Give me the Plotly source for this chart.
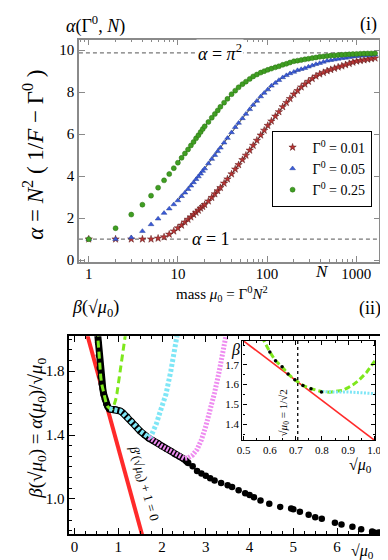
import plotly.graph_objects as go

FONT = "Liberation Serif, Times New Roman, serif"

# ---------------- panel (i) data ----------------
N_vals = [1, 2, 3, 4, 5, 6, 7, 8, 9, 10, 11, 12, 13, 14, 15, 16, 17, 18, 19, 20,
          22, 24, 26, 28, 30, 33, 36, 40, 44, 48, 53, 58, 64, 70, 77,
          85, 93, 102, 112, 124, 136, 150, 165, 181, 200, 220, 242, 266, 292, 322,
          354, 390, 429, 472, 519, 571, 628, 691, 760, 836, 920, 1012, 1113, 1224, 1347,
          1481, 1630]
alpha_g001 = [1.0, 1.0, 1.0, 1.0, 1.0, 1.04, 1.1, 1.23, 1.38, 1.53, 1.66, 1.81, 1.94, 2.05, 2.17,
              2.27, 2.37, 2.47, 2.55, 2.64,
              2.81, 2.98, 3.15, 3.3, 3.45, 3.66, 3.86, 4.1, 4.33, 4.54, 4.78, 4.99, 5.23, 5.46, 5.7,
              5.95, 6.18, 6.41, 6.62, 6.85, 7.06, 7.3, 7.5, 7.69, 7.9, 8.07, 8.24, 8.38, 8.51, 8.64,
              8.76, 8.86, 8.93, 9.01, 9.07, 9.13, 9.19, 9.24, 9.3, 9.36, 9.42, 9.47, 9.5, 9.53, 9.56,
              9.59, 9.62]
alpha_g005 = [1.0, 1.0, 1.08, 1.38, 1.7, 1.97, 2.24, 2.45, 2.65, 2.84, 3.04, 3.21, 3.38, 3.54, 3.7,
              3.85, 3.98, 4.11, 4.24, 4.36,
              4.6, 4.81, 5.0, 5.18, 5.35, 5.59, 5.81, 6.08, 6.33, 6.53, 6.75, 6.96, 7.18, 7.39, 7.58,
              7.79, 7.96, 8.12, 8.3, 8.44, 8.57, 8.7, 8.8, 8.89, 8.96, 9.04, 9.09, 9.14, 9.21, 9.27,
              9.33, 9.38, 9.44, 9.49, 9.52, 9.55, 9.58, 9.61, 9.63, 9.66, 9.69, 9.71, 9.73, 9.74, 9.76,
              9.77, 9.78]
alpha_g025 = [1.0, 1.52, 2.17, 2.64, 3.07, 3.45, 3.8, 4.1, 4.38, 4.64, 4.87, 5.08, 5.27, 5.46, 5.63,
              5.8, 5.95, 6.1, 6.24, 6.37,
              6.58, 6.78, 6.96, 7.13, 7.3, 7.5, 7.68, 7.9, 8.07, 8.23, 8.38, 8.5, 8.63, 8.75, 8.84,
              8.93, 9.0, 9.06, 9.12, 9.18, 9.23, 9.3, 9.35, 9.41, 9.47, 9.5, 9.53, 9.56, 9.59, 9.62,
              9.65, 9.68, 9.7, 9.72, 9.74, 9.75, 9.77, 9.78, 9.79, 9.8, 9.81, 9.82, 9.83, 9.835, 9.84,
              9.845, 9.85]
alpha_limits = [1.0, 9.8696]
y_ticks_top = [0, 2, 4, 6, 8, 10]

# ---------------- panel (ii) data ----------------
beta_x = [0.52, 0.54, 0.56, 0.578, 0.6, 0.622, 0.647, 0.67, 0.696, 0.727, 0.758, 0.798, 0.85, 0.9, 0.95,
          1.0, 1.05, 1.1, 1.2, 1.3, 1.4, 1.5, 1.6, 1.7, 1.8, 1.9, 2.0, 2.1, 2.2, 2.3, 2.4, 2.5, 2.6, 2.7,
          2.8, 2.9, 3.0, 3.1, 3.2, 3.35, 3.5, 3.6, 3.75, 3.9, 4.0, 4.1, 4.25, 4.45, 4.7, 4.95, 5.0, 5.15,
          5.35, 5.5, 5.65, 5.95, 6.1, 6.35, 6.55, 6.8, 6.85, 6.95, 7.05]
beta_y = [2.06, 1.98, 1.9, 1.82, 1.765, 1.72, 1.69, 1.654, 1.624, 1.596, 1.579, 1.563, 1.56, 1.562, 1.56,
          1.555, 1.55, 1.54, 1.515, 1.485, 1.455, 1.425, 1.40, 1.38, 1.365, 1.35, 1.33, 1.315, 1.30, 1.28,
          1.265, 1.25, 1.225, 1.205, 1.175, 1.16, 1.145, 1.13, 1.115, 1.10, 1.085, 1.075, 1.055, 1.035,
          1.025, 1.01, 0.99, 0.97, 0.95, 0.94, 0.935, 0.92, 0.9, 0.885, 0.875, 0.85, 0.84, 0.825, 0.81,
          0.795, 0.79, 0.79, 0.785]
green_x = [0.52, 0.54, 0.56, 0.578, 0.6, 0.622, 0.647, 0.67, 0.696, 0.727, 0.758, 0.798, 0.83, 0.86,
           0.88, 0.9, 0.92, 0.94, 0.97, 1.0, 1.05, 1.1, 1.15, 1.2]
green_y = [2.06, 1.98, 1.9, 1.82, 1.765, 1.72, 1.69, 1.654, 1.624, 1.596, 1.579, 1.565, 1.561, 1.565,
           1.571, 1.585, 1.6, 1.62, 1.66, 1.715, 1.8, 1.9, 2.0, 2.1]
cyan_x = [0.8, 0.85, 0.9, 0.95, 1.0, 1.05, 1.1, 1.2, 1.3, 1.4, 1.5, 1.6, 1.65, 1.7, 1.75, 1.8, 1.87,
          1.95, 2.03, 2.09, 2.2, 2.31, 2.36]
cyan_y = [1.565, 1.562, 1.563, 1.56, 1.555, 1.55, 1.54, 1.515, 1.485, 1.455, 1.425, 1.40, 1.39, 1.385,
          1.395, 1.42, 1.47, 1.54, 1.61, 1.656, 1.80, 1.965, 2.05]
mag_x = [1.7, 1.8, 1.9, 2.0, 2.1, 2.2, 2.3, 2.4, 2.45, 2.5, 2.6, 2.7, 2.8, 2.9, 3.0, 3.1, 3.2, 3.3,
         3.42, 3.48]
mag_y = [1.385, 1.365, 1.35, 1.33, 1.315, 1.30, 1.28, 1.265, 1.256, 1.254, 1.258, 1.275, 1.31, 1.37,
         1.455, 1.55, 1.665, 1.79, 1.965, 2.05]
red_x = [0.2, 1.7]
red_y = [2.12, 0.62]
x_crit = 0.7071

RED = "#ff2a2a"
LIME = "#7ee81c"
CYAN = "#7fe6f6"
MAG = "#ee8cf0"

fig = go.Figure()

# ---------- panel (i) ----------
series = [("Γ<sup>0</sup> = 0.01", alpha_g001, "star", "#b83434", "#5a1818", 5.5),
          ("Γ<sup>0</sup> = 0.05", alpha_g005, "triangle-up", "#3a5ad8", "#27409a", 5),
          ("Γ<sup>0</sup> = 0.25", alpha_g025, "circle", "#3f9e22", "#2a7012", 5)]
for name, ys, sym, col, lcol, sz in series:
    lx = [n for n in N_vals if n >= 10]
    ly = [a for n, a in zip(N_vals, ys) if n >= 10]
    fig.add_trace(go.Scatter(x=lx, y=ly, mode="lines", line=dict(color="#333333", width=1),
                             xaxis="x", yaxis="y", showlegend=False, hoverinfo="skip"))
for name, ys, sym, col, lcol, sz in series:
    fig.add_trace(go.Scatter(x=N_vals, y=ys, mode="markers", name=name,
                             marker=dict(symbol=sym, size=sz, color=col, line=dict(color=lcol, width=0.5)),
                             xaxis="x", yaxis="y"))

# ---------- panel (ii) ----------
fig.add_trace(go.Scatter(x=red_x, y=red_y, mode="lines", line=dict(color=RED, width=4),
                         xaxis="x2", yaxis="y2", showlegend=False))
bl_x = [x for x in beta_x if x <= 2.6]
bl_y = [y for x, y in zip(beta_x, beta_y) if x <= 2.6]
fig.add_trace(go.Scatter(x=bl_x, y=bl_y, mode="lines", line=dict(color="black", width=7),
                         xaxis="x2", yaxis="y2", showlegend=False))
fig.add_trace(go.Scatter(x=beta_x, y=beta_y, mode="markers", marker=dict(color="black", size=6.5),
                         xaxis="x2", yaxis="y2", showlegend=False))
fig.add_trace(go.Scatter(x=green_x, y=green_y, mode="lines", line=dict(color=LIME, width=3, dash="7px,4px"),
                         xaxis="x2", yaxis="y2", showlegend=False))
fig.add_trace(go.Scatter(x=cyan_x, y=cyan_y, mode="lines", line=dict(color=CYAN, width=5, dash="3px,2px"),
                         xaxis="x2", yaxis="y2", showlegend=False))
fig.add_trace(go.Scatter(x=mag_x, y=mag_y, mode="lines", line=dict(color=MAG, width=5, dash="2px,1.5px"),
                         xaxis="x2", yaxis="y2", showlegend=False))

# ---------- inset ----------
fig.add_trace(go.Scatter(x=red_x, y=red_y, mode="lines", line=dict(color=RED, width=1.6),
                         xaxis="x3", yaxis="y3", showlegend=False))
fig.add_trace(go.Scatter(x=green_x, y=green_y, mode="lines", line=dict(color=LIME, width=3, dash="6px,3px"),
                         xaxis="x3", yaxis="y3", showlegend=False))
fig.add_trace(go.Scatter(x=cyan_x, y=cyan_y, mode="lines", line=dict(color=CYAN, width=3, dash="2px,1.5px"),
                         xaxis="x3", yaxis="y3", showlegend=False))
in_x = [x for x in beta_x if 0.59 < x < 0.81]
in_y = [y for x, y in zip(beta_x, beta_y) if 0.59 < x < 0.81]
fig.add_trace(go.Scatter(x=in_x, y=in_y, mode="markers", marker=dict(color="black", size=3.5),
                         xaxis="x3", yaxis="y3", showlegend=False))

tickfont = dict(family=FONT, size=15, color="black")
GRAY = "#8a8a8a"

fig.update_layout(
    width=388, height=560, margin=dict(l=0, r=0, t=0, b=0),
    paper_bgcolor="white", plot_bgcolor="white",
    font=dict(family=FONT, color="black"),
    xaxis=dict(domain=[0.1727, 0.9716], anchor="y", type="log", range=[-0.11, 3.26],
               tickmode="linear", tick0=0, dtick=1, ticks="inside", ticklen=6, tickcolor=GRAY,
               minor=dict(ticks="inside", ticklen=3, dtick="D1", tickcolor=GRAY, showgrid=False),
               showline=True, linecolor=GRAY, linewidth=1.5, mirror="allticks",
               showgrid=False, zeroline=False, tickfont=tickfont, ticklabelstandoff=-3),
    yaxis=dict(domain=[0.5411, 0.9429], anchor="x", range=[-0.1, 10.5],
               tickvals=y_ticks_top, ticks="inside", ticklen=6, tickcolor=GRAY,
               showline=True, linecolor=GRAY, linewidth=1.5, mirror="allticks",
               showgrid=False, zeroline=False, tickfont=tickfont),
    xaxis2=dict(domain=[0.1469, 0.9897], anchor="y2", range=[-0.12, 7.12],
                tickvals=[0, 1, 2, 3, 4, 5, 6], ticks="inside", ticklen=6, tickcolor="black",
                minor=dict(ticks="inside", ticklen=3, dtick=0.25, tick0=0, tickcolor="black", showgrid=False),
                showline=True, linecolor="black", linewidth=1.5, mirror="allticks",
                showgrid=False, zeroline=False, tickfont=tickfont, ticklabelstandoff=-2),
    yaxis2=dict(domain=[0.0505, 0.4077], anchor="x2", range=[0.78, 2.02],
                tickvals=[1.0, 1.4, 1.8], ticktext=["1.0", "1.4", "1.8"], ticks="inside", ticklen=6,
                tickcolor="black",
                minor=dict(ticks="inside", ticklen=3, dtick=0.4 / 6, tick0=1.0, tickcolor="black", showgrid=False),
                showline=True, linecolor="black", linewidth=1.5, mirror="allticks",
                showgrid=False, zeroline=False, tickfont=tickfont),
    xaxis3=dict(domain=[0.6075, 0.9606], anchor="y3", range=[0.495, 1.004],
                tickvals=[0.5, 0.6, 0.7, 0.8, 0.9, 1.0], ticktext=["0.5", "0.6", "0.7", "0.8", "0.9", "1.0"],
                ticks="inside", ticklen=4, tickcolor="black",
                minor=dict(ticks="inside", ticklen=2, dtick=0.05, tick0=0.5, tickcolor="black", showgrid=False),
                showline=True, linecolor="black", linewidth=1.2, mirror="allticks",
                showgrid=False, zeroline=False, tickfont=dict(family=FONT, size=11, color="black")),
    yaxis3=dict(domain=[0.2202, 0.3988], anchor="x3", range=[1.32, 1.82],
                tickvals=[1.4, 1.5, 1.6, 1.7], ticktext=["1.4", "1.5", "1.6", "1.7"],
                ticks="inside", ticklen=4, tickcolor="black",
                minor=dict(ticks="inside", ticklen=2, dtick=0.05, tick0=1.4, tickcolor="black", showgrid=False),
                showline=True, linecolor="black", linewidth=1.2, mirror="allticks",
                showgrid=False, zeroline=False, tickfont=dict(family=FONT, size=11, color="black")),
    legend=dict(x=369 / 388, y=1 - 124 / 560, xanchor="right", yanchor="top", bgcolor="white",
                bordercolor="black", borderwidth=1, font=dict(family=FONT, size=14, color="black"),
                tracegroupgap=0, itemwidth=30),
)

# reference lines in panel (i)
for a in alpha_limits:
    fig.add_shape(type="line", xref="x domain", yref="y", x0=0, x1=1, y0=a, y1=a,
                  line=dict(color="#777777", width=1.2, dash="4px,3px"), layer="below")
# inset vertical line
fig.add_shape(type="line", xref="x3", yref="y3 domain", x0=x_crit, x1=x_crit, y0=0, y1=1,
              line=dict(color="black", width=1.3, dash="dot"))

ann = []
def A(text, x, y, size=16, xref="paper", yref="paper", xanchor="center", yanchor="middle", angle=0, bg=None):
    d = dict(text=text, x=x, y=y, xref=xref, yref=yref, xanchor=xanchor, yanchor=yanchor,
             showarrow=False, textangle=angle, font=dict(family=FONT, size=size, color="black"))
    if bg:
        d["bgcolor"] = bg
    ann.append(d)

A("<i>α</i>(Γ<sup>0</sup>, <i>N</i>)", 84 / 388, 1 - 17 / 560, size=18)
A("(i)", 377 / 388, 1 - 17 / 560, size=18, xanchor="right")
A("<i>α</i> = <i>π</i><sup>2</sup>", 1.467, alpha_limits[1], size=18, xref="x", yref="y", bg="white")
A("<i>α</i> = 1", 1.37, alpha_limits[0], size=18, xref="x", yref="y", bg="white")
A("<i>N</i>", 2.62, 1 - 266 / 560, size=17, xref="x", yref="paper")
A("<i>α</i> = <i>N</i><sup>2</sup> ( 1/<i>F</i> − Γ<sup>0</sup> )", 20 / 388, 1 - 148 / 560, size=23, angle=-90)
A("mass <i>μ</i><sub>0</sub> = Γ<sup>0</sup><i>N</i><sup>2</sup>", 215 / 388, 1 - 289 / 560, size=15)
A("<i>β</i>(√<i>μ</i><sub>0</sub>)", 84 / 388, 1 - 304 / 560, size=18)
A("(ii)", 381 / 388, 1 - 304 / 560, size=18, xanchor="right")
A("<i>β</i>(√<i>μ</i><sub>0</sub>) = <i>α</i>(<i>μ</i><sub>0</sub>)/√<i>μ</i><sub>0</sub>",
  24 / 388, 1 - 425 / 560, size=19, angle=-90)
A("√<i>μ</i><sub>0</sub>", 360 / 388, 1 - 549 / 560, size=16)
A("√<i>μ</i><sub>0</sub>", 358 / 388, 1 - 462 / 560, size=16)
A("<i>β</i>", 229 / 388, 1 - 346 / 560, size=16)
A("<i>β</i>′(√<i>μ</i><sub>0</sub>) + 1 = 0", 1.57, 1.095, size=13, xref="x2", yref="y2", angle=74)
A("√<i>μ</i><sub>0</sub> = 1/√2", 0.655, 1.455, size=11, xref="x3", yref="y3", angle=-90)
fig.update_layout(annotations=ann)

fig.write_html("out.html")
